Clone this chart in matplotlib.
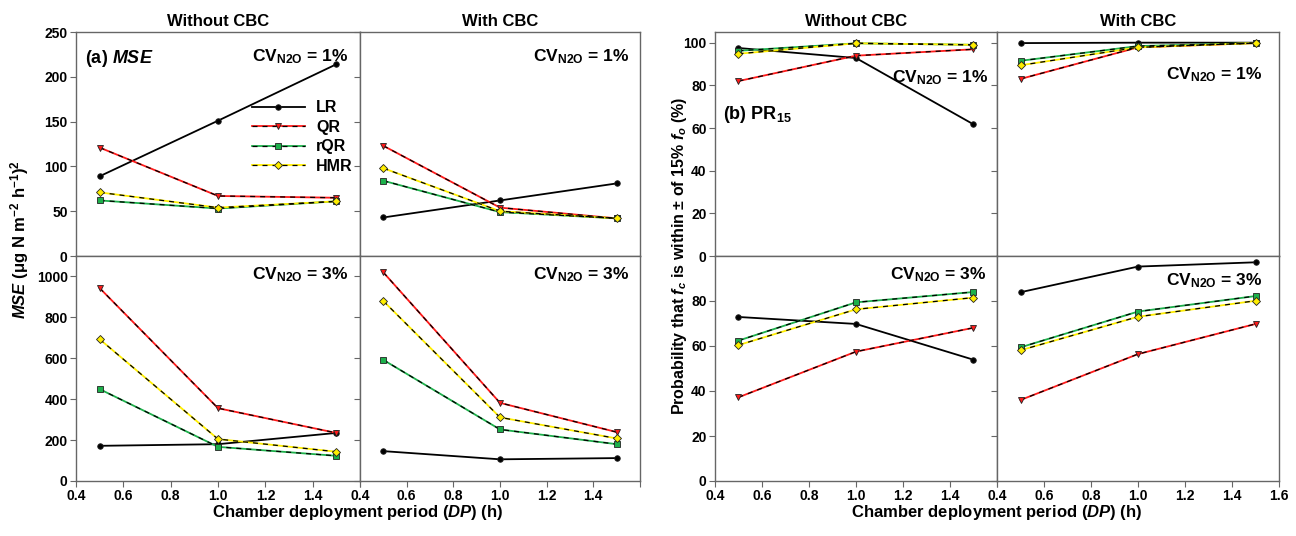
import matplotlib.pyplot as plt
from matplotlib.legend_handler import HandlerTuple

plt.rcParams['font.family'] = 'Liberation Sans'
plt.rcParams['font.weight'] = 'bold'
plt.rcParams['mathtext.fontset'] = 'custom'
plt.rcParams['mathtext.rm'] = 'Liberation Sans:bold'
plt.rcParams['mathtext.it'] = 'Liberation Sans:italic:bold'
plt.rcParams['mathtext.bf'] = 'Liberation Sans:bold'

# Data: chamber deployment period (h)
dp = [0.5, 1.0, 1.5]
methods = ['LR', 'QR', 'rQR', 'HMR']

# (a) MSE, order of rows: LR, QR, rQR, HMR
mse_without_cv1 = [[89, 151, 214], [121, 67, 65], [62, 53, 61], [71, 54, 61]]
mse_with_cv1 = [[43, 62, 81], [123, 54, 42], [84, 49, 42], [98, 50, 42]]
mse_without_cv3 = [[172, 180, 235], [943, 356, 235], [449, 167, 123], [693, 205, 143]]
mse_with_cv3 = [[146, 106, 112], [1020, 382, 239], [592, 252, 180], [880, 311, 208]]

# (b) PR15 (%)
pr_without_cv1 = [[97.5, 92.8, 61.7], [82, 93.9, 96.9], [96.2, 99.7, 99], [94.8, 99.7, 99]]
pr_with_cv1 = [[99.8, 100, 100], [83, 97.8, 99.8], [91.5, 98.4, 99.8], [89.4, 97.8, 99.8]]
pr_without_cv3 = [[72.9, 69.8, 53.9], [37.2, 57.5, 68.1], [62.4, 79.4, 84], [60.4, 76.3, 81.5]]
pr_with_cv3 = [[83.9, 95.3, 97.2], [36, 56.4, 69.8], [59.4, 75.3, 82.2], [58.1, 73, 80.1]]

x_ticks = [0.4, 0.6, 0.8, 1.0, 1.2, 1.4, 1.6]
mse_top_ticks = [0, 50, 100, 150, 200, 250]
mse_bot_ticks = [0, 200, 400, 600, 800, 1000]
pr_top_ticks = [0, 20, 40, 60, 80, 100]
pr_bot_ticks = [0, 20, 40, 60, 80]

colors = ['black', '#ff1a1a', '#1db04b', '#ffee00']
markers = ['o', 'v', 's', 'D']
msizes = [4, 5, 4.5, 4.5]
spine_col = '#666666'

W, H = 1296, 536
fig = plt.figure(figsize=(12.96, 5.36), dpi=100)


def box(x0, x1, y0, y1):
    return [x0 / W, 1 - y1 / H, (x1 - x0) / W, (y1 - y0) / H]


def draw(ax, series):
    handles = []
    for i, vals in enumerate(series):
        ln, = ax.plot(dp, vals, color=colors[i], lw=1.3, zorder=2)
        parts = [ln]
        if i > 0:
            d, = ax.plot(dp, vals, color='black', lw=0.9, ls=(0, (4, 4)), zorder=3)
            parts.append(d)
        mk, = ax.plot(dp, vals, ls='none', marker=markers[i], ms=msizes[i],
                      mfc=colors[i], mec='#222222', mew=0.6, zorder=4)
        parts.append(mk)
        handles.append(tuple(parts))
    return handles


def style(ax, ylim, yticks, col, row, last=False):
    ax.set_xlim(0.4, 1.6)
    ax.set_ylim(*ylim)
    ax.set_yticks(yticks)
    for s in ax.spines.values():
        s.set_color(spine_col)
        s.set_linewidth(1.0)
    ax.tick_params(direction='out', length=4, width=0.8, color=spine_col,
                   labelsize=10, pad=2)
    if col == 1:
        ax.set_yticklabels([])
    if row == 0:
        ax.set_xticks([])
    else:
        ax.set_xticks(x_ticks)
        labs = ['%.1f' % t for t in x_ticks]
        if not last:
            labs[-1] = ''
        ax.set_xticklabels(labs)
    for lab in ax.get_xticklabels() + ax.get_yticklabels():
        lab.set_fontweight('bold')


cols_l = [(76, 360), (360, 640)]
cols_r = [(715, 997), (997, 1279)]
rows = [(32, 256), (256, 481)]

mse_data = [[mse_without_cv1, mse_with_cv1], [mse_without_cv3, mse_with_cv3]]
pr_data = [[pr_without_cv1, pr_with_cv1], [pr_without_cv3, pr_with_cv3]]
col_titles = ['Without CBC', 'With CBC']

axes_l = {}
axes_r = {}
for r in range(2):
    for c in range(2):
        ax = fig.add_axes(box(*cols_l[c], *rows[r]))
        h = draw(ax, mse_data[r][c])
        if r == 0:
            style(ax, (0, 250), mse_top_ticks, c, r)
        else:
            style(ax, (0, 1100), mse_bot_ticks, c, r)
        axes_l[(r, c)] = (ax, h)

        ax2 = fig.add_axes(box(*cols_r[c], *rows[r]))
        draw(ax2, pr_data[r][c])
        if r == 0:
            style(ax2, (0, 105), pr_top_ticks, c, r)
        else:
            style(ax2, (0, 100), pr_bot_ticks, c, r, last=(c == 1))
        axes_r[(r, c)] = ax2

        if r == 0:
            ax.set_title(col_titles[c], fontsize=12, fontweight='bold', pad=4)
            ax2.set_title(col_titles[c], fontsize=12, fontweight='bold', pad=4)

cv1 = r'CV$_{\mathrm{N2O}}$ = 1%'
cv3 = r'CV$_{\mathrm{N2O}}$ = 3%'

# panel (a) annotations
a00, handles = axes_l[(0, 0)]
a00.text(0.03, 0.93, r'(a) $\mathit{MSE}$', transform=a00.transAxes, fontsize=13,
         fontweight='bold', va='top', ha='left')
a00.text(0.96, 0.93, cv1, transform=a00.transAxes, fontsize=12.5, fontweight='bold',
         va='top', ha='right')
axes_l[(0, 1)][0].text(0.96, 0.93, cv1, transform=axes_l[(0, 1)][0].transAxes,
                       fontsize=12.5, fontweight='bold', va='top', ha='right')
axes_l[(1, 0)][0].text(0.96, 0.96, cv3, transform=axes_l[(1, 0)][0].transAxes,
                       fontsize=12.5, fontweight='bold', va='top', ha='right')
axes_l[(1, 1)][0].text(0.96, 0.96, cv3, transform=axes_l[(1, 1)][0].transAxes,
                       fontsize=12.5, fontweight='bold', va='top', ha='right')

a00.legend(handles, methods, handler_map={tuple: HandlerTuple(ndivide=1)},
           loc='upper left', bbox_to_anchor=(0.62, 0.695), frameon=False,
           fontsize=11.5, handlelength=3.3, labelspacing=0.28, handletextpad=0.7,
           borderaxespad=0, borderpad=0)

# panel (b) annotations
b00 = axes_r[(0, 0)]
b00.text(0.03, 0.68, r'(b) PR$_{\mathrm{15}}$', transform=b00.transAxes, fontsize=13,
         fontweight='bold', va='top', ha='left')
b00.text(0.97, 0.84, cv1, transform=b00.transAxes, fontsize=12.5, fontweight='bold',
         va='top', ha='right')
axes_r[(0, 1)].text(0.94, 0.85, cv1, transform=axes_r[(0, 1)].transAxes,
                    fontsize=12.5, fontweight='bold', va='top', ha='right')
axes_r[(1, 0)].text(0.96, 0.96, cv3, transform=axes_r[(1, 0)].transAxes,
                    fontsize=12.5, fontweight='bold', va='top', ha='right')
axes_r[(1, 1)].text(0.94, 0.93, cv3, transform=axes_r[(1, 1)].transAxes,
                    fontsize=12.5, fontweight='bold', va='top', ha='right')

# axis labels
fig.text(358 / W, 1 - 512 / H, r'Chamber deployment period ($\mathit{DP}$) (h)',
         ha='center', va='center', fontsize=12, fontweight='bold')
fig.text(997 / W, 1 - 512 / H, r'Chamber deployment period ($\mathit{DP}$) (h)',
         ha='center', va='center', fontsize=12, fontweight='bold')
fig.text(20 / W, 1 - 240 / H, r'$\mathit{MSE}$ (μg N m$^{-2}$ h$^{-1}$)$^{2}$',
         rotation=90, ha='center', va='center', fontsize=12, fontweight='bold')
fig.text(679 / W, 1 - 256 / H,
         r'Probability that $\mathit{f}_{\mathit{c}}$ is within ± of 15% $\mathit{f}_{\mathit{o}}$ (%)',
         rotation=90, ha='center', va='center', fontsize=11.5, fontweight='bold')

fig.savefig('out.png', dpi=100)
